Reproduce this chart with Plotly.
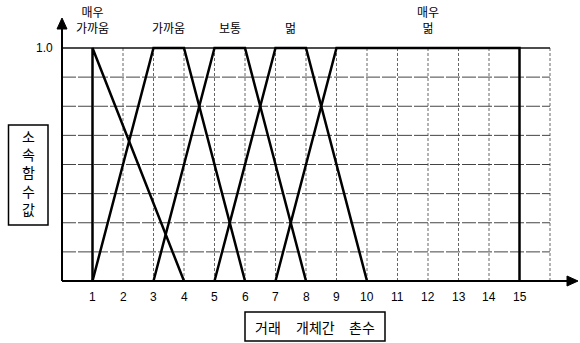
import plotly.graph_objects as go

# ---------------- data ----------------
x_ticks = list(range(1, 16))
x_tick_labels = [str(v) for v in x_ticks]
y_tick_vals = [1.0]
y_tick_labels = ["1.0"]

set_names = ["매우<br>가까움", "가까움", "보통", "멂", "매우<br>멂"]
set_label_x = [1, 3.5, 5.5, 7.5, 12]

very_near_x = [1, 1, 4]
very_near_y = [0, 1, 0]
near_x = [1, 3, 4, 6]
near_y = [0, 1, 1, 0]
normal_x = [3, 5, 6, 8]
normal_y = [0, 1, 1, 0]
far_x = [5, 7, 8, 10]
far_y = [0, 1, 1, 0]
very_far_x = [7, 9, 15, 15]
very_far_y = [0, 1, 1, 0]

grid_x = list(range(1, 17))
grid_y = [0.125 * k for k in range(1, 9)]

y_title = "소<br>속<br>함<br>수<br>값"
x_title_words = ["거래", "개체간", "촌수"]

# ---------------- layout geometry (reference pixels) ----------------
W, H = 580, 343
PL, PR, PT, PB = 40, 580, 8, 303   # plot area in pixels
X0PX, UX = 62.0, 30.5     # pixel of x=0, px per unit
Y0PX, UY = 281.0, 233.0   # pixel of y=0, px per unit
xr = [(PL - X0PX) / UX, (PR - X0PX) / UX]
yr = [(Y0PX - PB) / UY, (Y0PX - PT) / UY]


def px_x(p):
    return (p - X0PX) / UX


def px_y(p):
    return (Y0PX - p) / UY


def pap_x(p):
    return (p - PL) / (PR - PL)


def pap_y(p):
    return (PB - p) / (PB - PT)


KR = "Noto Sans CJK KR"
NUM = "Liberation Sans"

fig = go.Figure()
for xs, ys in [(very_near_x, very_near_y), (near_x, near_y), (normal_x, normal_y),
               (far_x, far_y), (very_far_x, very_far_y)]:
    fig.add_trace(go.Scatter(x=xs, y=ys, mode="lines",
                             line=dict(color="black", width=2.5),
                             showlegend=False, hoverinfo="skip"))

shapes = []
for gx in grid_x:
    shapes.append(dict(type="line", xref="x", yref="y", x0=gx, x1=gx, y0=0, y1=1,
                       line=dict(color="#666", width=1, dash="3px,2px"), layer="below"))
for gy in grid_y:
    solid = gy == 1.0
    shapes.append(dict(type="line", xref="x", yref="y", x0=0, x1=16, y0=gy, y1=gy,
                       line=dict(color="#111" if solid else "#444",
                                 width=1.6 if solid else 1,
                                 dash="solid" if solid else "14px,2px"), layer="below"))
# axes with arrows
y_tip = px_y(18)
x_tip = px_x(578)
shapes.append(dict(type="line", xref="x", yref="y", x0=0, x1=0, y0=0, y1=y_tip - 0.02,
                   line=dict(color="black", width=2)))
shapes.append(dict(type="line", xref="x", yref="y", x0=0, x1=x_tip - 0.2, y0=0, y1=0,
                   line=dict(color="black", width=2)))
shapes.append(dict(type="path", xref="x", yref="y",
                   path=f"M 0 {y_tip} L {-5/UX} {y_tip-11/UY} L {5/UX} {y_tip-11/UY} Z",
                   fillcolor="black", line=dict(color="black", width=1)))
shapes.append(dict(type="path", xref="x", yref="y",
                   path=f"M {x_tip} 0 L {x_tip-11/UX} {5/UY} L {x_tip-11/UX} {-5/UY} Z",
                   fillcolor="black", line=dict(color="black", width=1)))
# title boxes
shapes.append(dict(type="rect", xref="paper", yref="paper",
                   x0=pap_x(8.5), x1=pap_x(48), y0=pap_y(225), y1=pap_y(125),
                   line=dict(color="black", width=1.5)))
shapes.append(dict(type="rect", xref="paper", yref="paper",
                   x0=pap_x(245), x1=pap_x(385), y0=pap_y(341), y1=pap_y(312),
                   line=dict(color="black", width=1.5)))

ann = []
for name, lx in zip(set_names, set_label_x):
    ann.append(dict(x=lx, y=px_y(38), xref="x", yref="y", text=name, showarrow=False,
                    xanchor="center", yanchor="bottom",
                    font=dict(family=KR, size=12, color="black")))
for tv, tl in zip(x_ticks, x_tick_labels):
    ann.append(dict(x=tv, y=px_y(297), xref="x", yref="y", text=tl, showarrow=False,
                    xanchor="center", yanchor="middle",
                    font=dict(family=NUM, size=12, color="black")))
for tv, tl in zip(y_tick_vals, y_tick_labels):
    ann.append(dict(x=px_x(55), y=tv, xref="x", yref="y", text=tl, showarrow=False,
                    xanchor="right", yanchor="middle",
                    font=dict(family=NUM, size=12, color="black")))
ann.append(dict(x=pap_x(28.5), y=pap_y(172), xref="paper", yref="paper", text=y_title,
                showarrow=False, xanchor="center", yanchor="middle",
                font=dict(family=KR, size=14, color="black")))
for wd, cx in zip(x_title_words, [267.5, 315.5, 361.7]):
    ann.append(dict(x=pap_x(cx), y=pap_y(327), xref="paper", yref="paper", text=wd,
                    showarrow=False, xanchor="center", yanchor="middle",
                    font=dict(family=KR, size=14, color="black")))

fig.update_layout(
    width=W, height=H,
    margin=dict(l=PL, r=W - PR, t=PT, b=H - PB),
    paper_bgcolor="white", plot_bgcolor="white",
    xaxis=dict(range=xr, visible=False, fixedrange=True),
    yaxis=dict(range=yr, visible=False, fixedrange=True),
    shapes=shapes, annotations=ann, showlegend=False,
)
fig.write_html("out.html", config={"displayModeBar": False, "staticPlot": True},
               post_script="document.body.style.margin='0px';document.body.style.overflow='hidden';")
